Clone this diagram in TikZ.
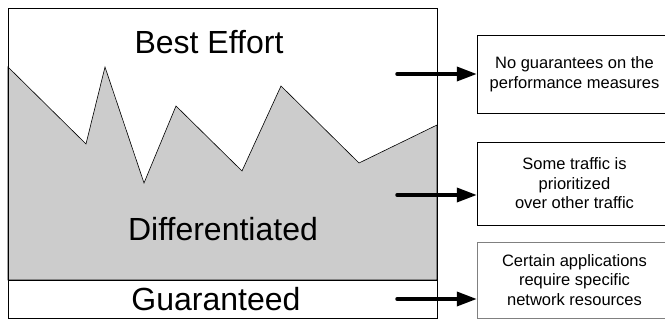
\documentclass[tikz,border=0pt]{standalone}
\usepackage{fontspec}
\setmainfont{Liberation Sans}
\usepackage{tikz}
\usetikzlibrary{arrows.meta}
\definecolor{shade}{HTML}{CCCCCC}
\tikzset{note/.style={draw,align=center,minimum width=195pt,inner sep=0pt,
		font=\fontsize{16.5}{19.5}\selectfont},
	big/.style={font=\fontsize{32}{36}\selectfont},
	pointer/.style={line width=3.5pt,line cap=round,-{Triangle[length=20pt,width=14pt]}}}

\begin{document}
\begin{tikzpicture}[x=1pt,y=-1pt]
		\clip (0,0) rectangle (665,320);
		\fill[white] (0,0) rectangle (665,320);
		% traffic curve
		\filldraw[fill=shade,draw=black,line width=0.6pt] (8,67) -- (86,144) -- (105,67) -- (144,183)
		-- (176,106) -- (242,171) -- (281,86) -- (359,163) -- (437,125) -- (437,280) -- (8,280) -- cycle;
		\draw[line width=0.8pt] (8,8) rectangle (437,318);
		\draw[line width=0.8pt] (8,280) -- (437,280);
		\path (209,42) node(best)[big]{Best Effort}
		(223,229) node(diff)[big]{Differentiated}
		(216,299) node(guar)[big]{Guaranteed};
		\path (574.5,74) node(nogu)[note,minimum height=78pt]{No guarantees on the\\performance measures}
		(574.5,183.5) node(prio)[note,minimum height=83pt]{Some traffic is\\prioritized\\over other traffic}
		(574.5,280) node(resv)[note,draw=gray,minimum height=76pt]{Certain applications\\require specific\\network resources};
		\coordinate (a1) at (397,74);
		\coordinate (a2) at (397,195);
		\coordinate (a3) at (397,299);
		\draw [pointer] (a1) -- (a1 -| nogu.west);
		\draw [pointer] (a2) -- (a2 -| prio.west);
		\draw [pointer] (a3) -- (a3 -| resv.west);
	\end{tikzpicture}
\end{document}
